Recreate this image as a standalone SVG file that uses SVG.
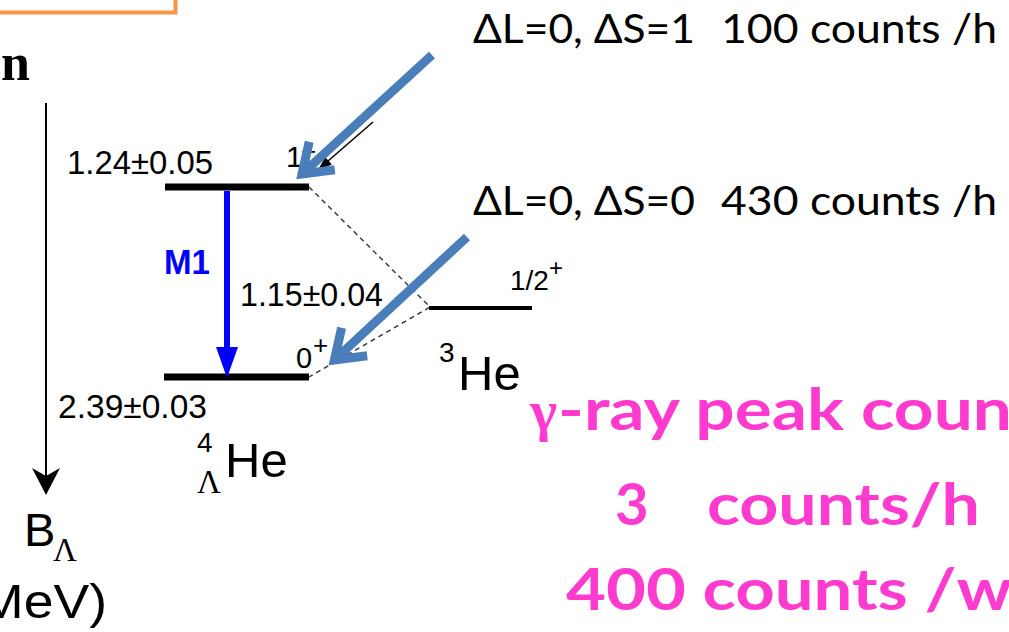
<svg xmlns="http://www.w3.org/2000/svg" width="1009" height="632" viewBox="0 0 1009 632">
<style>
.h{font-family:"Liberation Sans",Arial,sans-serif;fill:#000}
.s{font-family:"Liberation Serif","Times New Roman",serif;fill:#000}
.c{font-family:Lato,"Open Sans",sans-serif;fill:#000}
.p{font-family:Lato,"Open Sans",sans-serif;font-weight:bold;fill:#FF3BCF}
.lvl{stroke:#000;fill:none}
.dash{stroke:#333;stroke-width:1.4;stroke-dasharray:5,4;fill:none}
.ba{stroke:#4A7EBB;stroke-width:9;fill:none;stroke-linejoin:miter;stroke-miterlimit:10}
</style>
<rect width="1009" height="632" fill="#fff"/>
<rect x="-10" y="-10" width="185.5" height="22.5" fill="none" stroke="#F79646" stroke-width="4"/>
<text class="s" x="1" y="80" font-size="52" font-weight="bold">n</text>

<g id="axis">
<line x1="46" y1="103" x2="46" y2="480" stroke="#000" stroke-width="2"/>
<path d="M46,495 L32,468 L46,476 L60,468 Z" fill="#000"/>
<text class="h" x="24" y="546" font-size="47">B</text>
<text class="s" x="53" y="561" font-size="33">Λ</text>
<text class="h" x="-21" y="618" font-size="48" textLength="128" lengthAdjust="spacingAndGlyphs">MeV)</text>
</g>

<g id="level-1plus">
<line class="lvl" x1="165" y1="187" x2="309" y2="187" stroke-width="7"/>
<text class="h" x="67" y="174" font-size="33" textLength="146" lengthAdjust="spacingAndGlyphs">1.24±0.05</text>
<text class="h" x="286" y="167" font-size="30">1</text>
<text class="h" x="301" y="160" font-size="26">+</text>
</g>

<g id="level-0plus">
<line class="lvl" x1="164" y1="377" x2="309" y2="377" stroke-width="7"/>
<text class="h" x="58" y="418" font-size="33" textLength="149" lengthAdjust="spacingAndGlyphs">2.39±0.03</text>
<text class="h" x="296" y="368" font-size="29">0</text>
<text class="h" x="313" y="354" font-size="26">+</text>
</g>

<g id="he4-label">
<text class="h" x="197" y="452" font-size="28">4</text>
<text class="h" x="225" y="477" font-size="49">He</text>
<text class="s" x="197" y="493" font-size="33">Λ</text>
</g>

<g id="level-he3">
<line class="lvl" x1="429" y1="308" x2="532" y2="308" stroke-width="4"/>
<text class="h" x="510" y="290" font-size="28">1/2</text>
<text class="h" x="549" y="276" font-size="24">+</text>
<text class="h" x="439" y="362" font-size="28">3</text>
<text class="h" x="458" y="390" font-size="49">He</text>
</g>

<g id="m1-label">
<text class="h" x="164" y="274" font-size="35" font-weight="bold" textLength="46" lengthAdjust="spacingAndGlyphs" style="fill:#0000FF">M1</text>
<text class="h" x="240" y="306" font-size="33" textLength="143" lengthAdjust="spacingAndGlyphs">1.15±0.04</text>
</g>

<g id="connectors">
<line x1="227" y1="191" x2="227" y2="350" stroke="#0000FF" stroke-width="6"/>
<path d="M216,347 L238,347 L227,378 Z" fill="#0000FF"/>
<path class="dash" d="M309,187 L430,307 L309,377"/>
<line x1="373" y1="122" x2="328" y2="161" stroke="#000" stroke-width="1.5"/>
<path d="M318,170 L331.8,164.6 L325.2,157 Z" fill="#000"/>
<path class="ba" d="M432,55 L302,174 M309.2,141.8 L302,174 L334.8,169.8"/>
<path class="ba" d="M467,237 L334.4,360 M341.6,327.8 L334.4,360 L367.2,355.8"/>
</g>

<g id="annotations">
<text class="c" x="473" y="43" font-size="40" textLength="222" lengthAdjust="spacingAndGlyphs">ΔL=0, ΔS=1</text>
<text class="c" x="721" y="43" font-size="40" textLength="276" lengthAdjust="spacingAndGlyphs">100 counts /h</text>
<text class="c" x="473" y="215" font-size="40" textLength="222" lengthAdjust="spacingAndGlyphs">ΔL=0, ΔS=0</text>
<text class="c" x="721" y="215" font-size="40" textLength="276" lengthAdjust="spacingAndGlyphs">430 counts /h</text>
</g>

<g id="peak-counts">
<text class="s" x="530" y="430" font-size="58" font-weight="bold" style="fill:#FF3BCF">γ</text>
<text class="p" x="558" y="430" font-size="58" textLength="454" lengthAdjust="spacingAndGlyphs">-ray peak coun</text>
<text class="p" x="615" y="525" font-size="58">3</text>
<text class="p" x="707" y="525" font-size="58" textLength="273" lengthAdjust="spacingAndGlyphs">counts/h</text>
<text class="p" x="566" y="610" font-size="58" textLength="446" lengthAdjust="spacingAndGlyphs">400 counts /w</text>
</g>
</svg>
